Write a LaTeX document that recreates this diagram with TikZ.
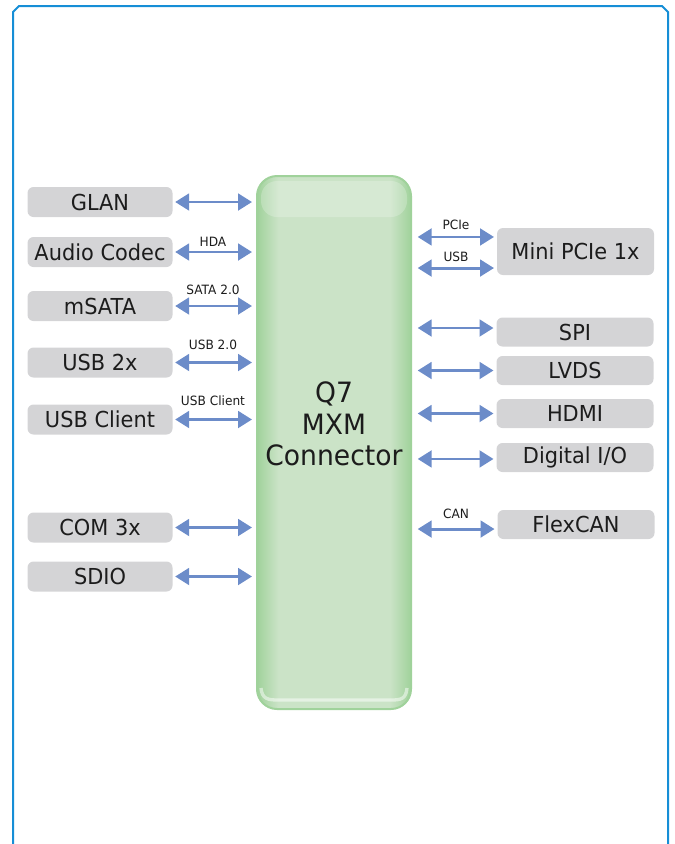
\documentclass[tikz,border=0pt]{standalone}
\usepackage{fontspec}
\setmainfont[FakeStretch=0.95]{DejaVu Sans}
\usetikzlibrary{positioning,arrows.meta,shapes}
\definecolor{framblue}{RGB}{22,142,214}
\definecolor{boxgray}{RGB}{212,212,214}
\definecolor{arrowblue}{RGB}{108,140,201}
\definecolor{qedge}{RGB}{160,210,155}
\definecolor{qfill}{RGB}{203,227,199}
\definecolor{textgray}{RGB}{28,28,28}
% green connector body, darker at both sides
\pgfdeclarehorizontalshading{q7shade}{100bp}{color(0bp)=(qedge); color(25bp)=(qedge);
  color(32bp)=(qfill); color(68bp)=(qfill); color(75bp)=(qedge); color(100bp)=(qedge)}
\tikzset{
        box/.style={fill=boxgray, rounded corners=4.5pt, text=textgray, inner sep=0pt, outer sep=0pt,
                font=\fontsize{16.5}{18}\selectfont}, % gray interface boxes
        lbox/.style={box, minimum width=108.75pt, minimum height=22.5pt}, % left column
        rbox/.style={box, minimum width=117.75pt, minimum height=21.75pt}, % right column
        link/.style={{Triangle[length=10.5pt,width=12.5pt]}-{Triangle[length=10.5pt,width=12.5pt]},
                line width=2.2pt, draw=arrowblue}, % double headed bus arrow
        tag/.style={font=\fontsize{9.6}{11}\selectfont, text=textgray, inner sep=0pt}, % bus name
}

\begin{document}
\begin{tikzpicture}[x=0.75pt,y=-0.75pt]
\useasboundingbox (0,0) rectangle (675,844);
\draw[framblue, line width=1.5pt] (13,844) -- (13,12) -- (19,6) -- (662,6) -- (668,12) -- (668,844);

% connector
\node[draw=qedge, line width=1.5pt, shade, shading=q7shade, rounded corners=15pt, outer sep=0pt,
      minimum width=115.5pt, minimum height=399.75pt] (q7) at (334,442.5) {};
\fill[white, opacity=.22, rounded corners=12pt] (261,181) rectangle (407,217);
\draw[white, opacity=.5, line width=2.5pt] (261,688) .. controls (262,699) and (268,700) .. (278,700)
        -- (391,700) .. controls (401,700) and (406,699) .. (407,688);
\node[font=\fontsize{21}{23.5}\selectfont, align=center, text=textgray] (q7text) at (334,424) {Q7\\MXM\\Connector};

% left side
\node[lbox] (glan) at (100,202) {GLAN};
\node[lbox] (audio) at (100,252) {Audio Codec};
\node[lbox] (msata) at (100,306) {mSATA};
\node[lbox] (usbtwo) at (100,362.5) {USB 2x};
\node[lbox] (usbcl) at (100,419.5) {USB Client};
\node[lbox] (com) at (100,527.5) {COM 3x};
\node[lbox] (sdio) at (100,576.5) {SDIO};

\draw[link, shorten <=2pt, shorten >=3.75pt] (glan.east) -- (glan.east -| q7.west);
\draw[link, shorten <=2pt, shorten >=3.75pt] (audio.east) -- (audio.east -| q7.west);
\draw[link, shorten <=2pt, shorten >=3.75pt] (msata.east) -- (msata.east -| q7.west);
\draw[link, shorten <=2pt, shorten >=3.75pt] (usbtwo.east) -- (usbtwo.east -| q7.west);
\draw[link, shorten <=2pt, shorten >=3.75pt] (usbcl.east) -- (usbcl.east -| q7.west);
\draw[link, shorten <=2pt, shorten >=3.75pt] (com.east) -- (com.east -| q7.west);
\draw[link, shorten <=2pt, shorten >=3.75pt] (sdio.east) -- (sdio.east -| q7.west);

\node[tag] (hda) at (213,242) {HDA};
\node[tag] (sata) at (213,290) {SATA 2.0};
\node[tag] (usbhs) at (213,345) {USB 2.0};
\node[tag] (usbdev) at (213,401) {USB Client};

% right side
\node[rbox, minimum height=35.25pt] (mpcie) at (575.5,251.5) {Mini PCIe 1x};
\node[rbox] (spi) at (575,332) {SPI};
\node[rbox] (lvds) at (575,370.5) {LVDS};
\node[rbox] (hdmi) at (575,413.5) {HDMI};
\node[rbox] (dio) at (575,457.5) {Digital I/O};
\node[rbox] (can) at (576,524.5) {FlexCAN};

\draw[link, shorten <=2.25pt, shorten >=5pt] ([yshift=10.9pt]mpcie.west) -- ([yshift=10.9pt]mpcie.west -| q7.east);
\draw[link, shorten <=2.25pt, shorten >=5pt] ([yshift=-12.4pt]mpcie.west) -- ([yshift=-12.4pt]mpcie.west -| q7.east);
\draw[link, shorten <=2.25pt, shorten >=5pt] ([yshift=3pt]spi.west) -- ([yshift=3pt]spi.west -| q7.east);
\draw[link, shorten <=2.25pt, shorten >=5pt] (lvds.west) -- (lvds.west -| q7.east);
\draw[link, shorten <=2.25pt, shorten >=5pt] (hdmi.west) -- (hdmi.west -| q7.east);
\draw[link, shorten <=2.25pt, shorten >=5pt] ([yshift=-1.1pt]dio.west) -- ([yshift=-1.1pt]dio.west -| q7.east);
\draw[link, shorten <=2.25pt, shorten >=5pt] ([yshift=-3.4pt]can.west) -- ([yshift=-3.4pt]can.west -| q7.east);

\node[tag] (pcie) at (456,225) {PCIe};
\node[tag] (usbm) at (456,257) {USB};
\node[tag] (canbus) at (456,514) {CAN};

\end{tikzpicture}
\end{document}
